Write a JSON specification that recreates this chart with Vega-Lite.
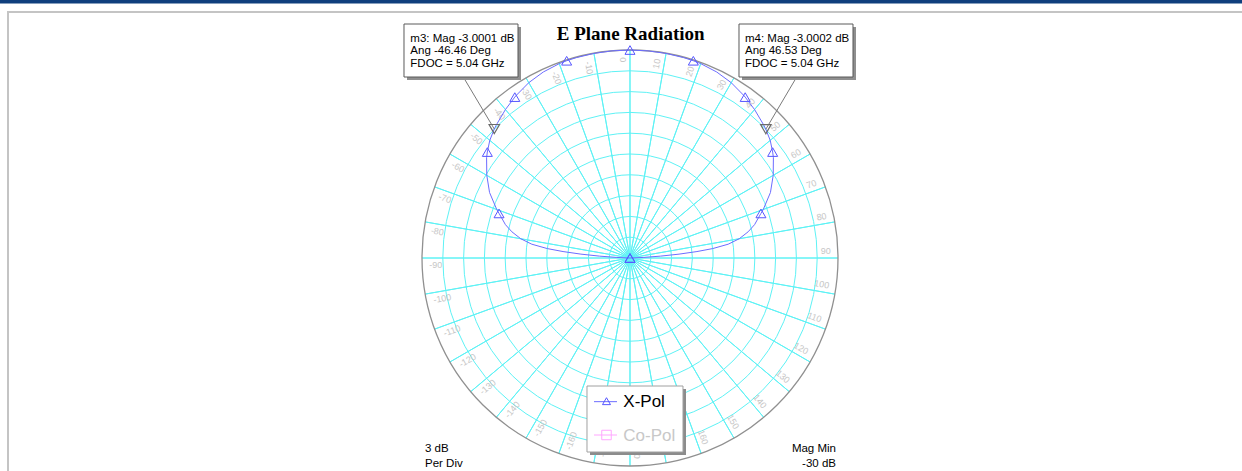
{
  "$schema": "https://vega.github.io/schema/vega-lite/v6.json",
  "width": 1242,
  "height": 471,
  "padding": 0,
  "autosize": {"type": "none"},
  "background": "white",
  "config": {"view": {"stroke": null}},
  "datasets": {
    "xpol": [
      {"angle": -90, "mag": -36.0}, {"angle": -89, "mag": -31.0}, {"angle": -88.3, "mag": -29.6}, {"angle": -87.5, "mag": -28.1},
      {"angle": -86.5, "mag": -25.6}, {"angle": -85.5, "mag": -22.9}, {"angle": -84.5, "mag": -20.3}, {"angle": -83.5, "mag": -18.0},
      {"angle": -82, "mag": -15.7}, {"angle": -80, "mag": -14.0}, {"angle": -77.5, "mag": -12.55}, {"angle": -75, "mag": -11.4},
      {"angle": -72.5, "mag": -10.55}, {"angle": -71.2, "mag": -10.05}, {"angle": -70, "mag": -9.55}, {"angle": -65, "mag": -7.65},
      {"angle": -60, "mag": -6.15}, {"angle": -55, "mag": -4.75}, {"angle": -53.4, "mag": -4.37}, {"angle": -50, "mag": -3.6},
      {"angle": -46.5, "mag": -3.0}, {"angle": -45, "mag": -2.78}, {"angle": -40, "mag": -2.05}, {"angle": -35.6, "mag": -1.46},
      {"angle": -35, "mag": -1.38}, {"angle": -30, "mag": -0.8}, {"angle": -25, "mag": -0.4}, {"angle": -20, "mag": -0.17},
      {"angle": -17.8, "mag": -0.12}, {"angle": -15, "mag": -0.08}, {"angle": -10, "mag": -0.04}, {"angle": -5, "mag": -0.01},
      {"angle": 0, "mag": 0.0},
      {"angle": 5, "mag": -0.01}, {"angle": 10, "mag": -0.04}, {"angle": 15, "mag": -0.08}, {"angle": 17.8, "mag": -0.12},
      {"angle": 20, "mag": -0.17}, {"angle": 25, "mag": -0.4}, {"angle": 30, "mag": -0.8}, {"angle": 35, "mag": -1.38},
      {"angle": 35.6, "mag": -1.46}, {"angle": 40, "mag": -2.05}, {"angle": 45, "mag": -2.78}, {"angle": 46.5, "mag": -3.0},
      {"angle": 50, "mag": -3.6}, {"angle": 53.4, "mag": -4.37}, {"angle": 55, "mag": -4.75}, {"angle": 60, "mag": -6.15},
      {"angle": 65, "mag": -7.65}, {"angle": 70, "mag": -9.55}, {"angle": 71.2, "mag": -10.05}, {"angle": 72.5, "mag": -10.55},
      {"angle": 75, "mag": -11.4}, {"angle": 77.5, "mag": -12.55}, {"angle": 80, "mag": -14.0}, {"angle": 82, "mag": -15.7},
      {"angle": 83.5, "mag": -18.0}, {"angle": 84.5, "mag": -20.3}, {"angle": 85.5, "mag": -22.9}, {"angle": 86.5, "mag": -25.6},
      {"angle": 87.5, "mag": -28.1}, {"angle": 88.3, "mag": -29.6}, {"angle": 89, "mag": -31.0}, {"angle": 90, "mag": -36.0}
    ],
    "xpolMarkers": [
      {"angle": -89, "mag": -31.0}, {"angle": -71.2, "mag": -10.05}, {"angle": -53.4, "mag": -4.37}, {"angle": -35.6, "mag": -1.46},
      {"angle": -17.8, "mag": -0.12}, {"angle": 0, "mag": 0.0}, {"angle": 17.8, "mag": -0.12}, {"angle": 35.6, "mag": -1.46},
      {"angle": 53.4, "mag": -4.37}, {"angle": 71.2, "mag": -10.05}, {"angle": 89, "mag": -31.0}
    ],
    "markers": [
      {"marker": "m3", "angle": -46.46, "mag": -3.0001, "fdoc": 5.04},
      {"marker": "m4", "angle": 46.53, "mag": -3.0002, "fdoc": 5.04}
    ],
    "angles": [
      {"angle": -170}, {"angle": -160}, {"angle": -150}, {"angle": -140}, {"angle": -130}, {"angle": -120},
      {"angle": -110}, {"angle": -100}, {"angle": -90}, {"angle": -80}, {"angle": -70}, {"angle": -60},
      {"angle": -50}, {"angle": -40}, {"angle": -30}, {"angle": -20}, {"angle": -10}, {"angle": 0},
      {"angle": 10}, {"angle": 20}, {"angle": 30}, {"angle": 40}, {"angle": 50}, {"angle": 60},
      {"angle": 70}, {"angle": 80}, {"angle": 90}, {"angle": 100}, {"angle": 110}, {"angle": 120},
      {"angle": 130}, {"angle": 140}, {"angle": 150}, {"angle": 160}, {"angle": 170}, {"angle": 180}
    ],
    "rings": [
      {"db": -27}, {"db": -24}, {"db": -21}, {"db": -18}, {"db": -15}, {"db": -12}, {"db": -9}, {"db": -6}, {"db": -3}, {"db": 0}
    ]
  },
  "resolve": {"scale": {"theta": "independent", "angle": "independent"}},
  "layer": [
    {
      "data": {"values": [{}]},
      "mark": {"type": "rect", "color": "#0f3f7d"},
      "encoding": {
        "x": {"datum": -90.865, "type": "quantitative", "scale": {"domain": [-90.865, 88.269], "nice": false, "zero": false}, "axis": null},
        "x2": {"datum": 88.269},
        "y": {"datum": 37.212, "type": "quantitative", "scale": {"domain": [-30.721, 37.212], "nice": false, "zero": false}, "axis": null},
        "y2": {"datum": 36.707}
      }
    },
    {
      "data": {"values": [{}]},
      "mark": {"type": "rect", "color": "#c4c4c4"},
      "encoding": {
        "x": {"datum": -89.856, "type": "quantitative", "scale": {"domain": [-90.865, 88.269], "nice": false, "zero": false}, "axis": null},
        "x2": {"datum": 88.269},
        "y": {"datum": 35.625, "type": "quantitative", "scale": {"domain": [-30.721, 37.212], "nice": false, "zero": false}, "axis": null},
        "y2": {"datum": 35.337}
      }
    },
    {
      "data": {"values": [{}]},
      "mark": {"type": "rect", "color": "#c4c4c4"},
      "encoding": {
        "x": {"datum": -89.856, "type": "quantitative", "scale": {"domain": [-90.865, 88.269], "nice": false, "zero": false}, "axis": null},
        "x2": {"datum": -89.567},
        "y": {"datum": 35.625, "type": "quantitative", "scale": {"domain": [-30.721, 37.212], "nice": false, "zero": false}, "axis": null},
        "y2": {"datum": -30.721}
      }
    },
    {
      "data": {"name": "angles"},
      "mark": {"type": "arc", "filled": false, "fill": null, "stroke": "#5ef2f5", "strokeWidth": 1},
      "encoding": {
        "x": {"datum": 0, "type": "quantitative", "scale": {"domain": [-90.865, 88.269], "nice": false, "zero": false}, "axis": null},
        "y": {"datum": 0, "type": "quantitative", "scale": {"domain": [-30.721, 37.212], "nice": false, "zero": false}, "axis": null},
        "theta": {"field": "angle", "type": "quantitative", "stack": null, "scale": {"domain": [-180, 180], "range": [-3.14159265, 3.14159265]}},
        "theta2": {"field": "angle"},
        "radius": {"datum": 0, "type": "quantitative", "scale": {"type": "linear", "domain": [-30, 0], "range": [0, 208], "nice": false, "zero": false}},
        "radius2": {"datum": -30}
      }
    },
    {
      "data": {"name": "rings"},
      "transform": [{"filter": "datum.db < 0"}],
      "mark": {"type": "arc", "filled": false, "fill": null, "stroke": "#5ef2f5", "strokeWidth": 1, "theta": 0, "theta2": 6.2832},
      "encoding": {
        "x": {"datum": 0, "type": "quantitative", "scale": {"domain": [-90.865, 88.269], "nice": false, "zero": false}, "axis": null},
        "y": {"datum": 0, "type": "quantitative", "scale": {"domain": [-30.721, 37.212], "nice": false, "zero": false}, "axis": null},
        "radius": {"field": "db", "type": "quantitative", "scale": {"type": "linear", "domain": [-30, 0], "range": [0, 208], "nice": false, "zero": false}},
        "radius2": {"datum": -30}
      }
    },
    {
      "data": {"name": "rings"},
      "transform": [{"filter": "datum.db == 0"}],
      "mark": {"type": "arc", "filled": false, "fill": null, "stroke": "#909090", "strokeWidth": 1.3, "theta": 0, "theta2": 6.2832},
      "encoding": {
        "x": {"datum": 0, "type": "quantitative", "scale": {"domain": [-90.865, 88.269], "nice": false, "zero": false}, "axis": null},
        "y": {"datum": 0, "type": "quantitative", "scale": {"domain": [-30.721, 37.212], "nice": false, "zero": false}, "axis": null},
        "radius": {"field": "db", "type": "quantitative", "scale": {"type": "linear", "domain": [-30, 0], "range": [0, 208], "nice": false, "zero": false}},
        "radius2": {"datum": -30}
      }
    },
    {
      "data": {"name": "angles"},
      "transform": [{"filter": "datum.angle >= 0"}],
      "mark": {"type": "text", "align": "right", "baseline": "middle", "fontSize": 9, "font": "Liberation Sans", "color": "#c6c6c6"},
      "encoding": {
        "x": {"datum": 0, "type": "quantitative", "scale": {"domain": [-90.865, 88.269], "nice": false, "zero": false}, "axis": null},
        "y": {"datum": 0, "type": "quantitative", "scale": {"domain": [-30.721, 37.212], "nice": false, "zero": false}, "axis": null},
        "theta": {"field": "angle", "type": "quantitative", "stack": null, "scale": {"domain": [-180, 180], "range": [-3.17829, 3.10489]}},
        "radius": {"datum": -1.01, "type": "quantitative", "scale": {"type": "linear", "domain": [-30, 0], "range": [0, 208], "nice": false, "zero": false}},
        "angle": {"field": "angle", "type": "quantitative", "scale": {"domain": [0, 180], "range": [-90, 90]}},
        "text": {"field": "angle", "type": "nominal"}
      }
    },
    {
      "data": {"name": "angles"},
      "transform": [{"filter": "datum.angle < 0"}],
      "mark": {"type": "text", "align": "left", "baseline": "middle", "fontSize": 9, "font": "Liberation Sans", "color": "#c6c6c6"},
      "encoding": {
        "x": {"datum": 0, "type": "quantitative", "scale": {"domain": [-90.865, 88.269], "nice": false, "zero": false}, "axis": null},
        "y": {"datum": 0, "type": "quantitative", "scale": {"domain": [-30.721, 37.212], "nice": false, "zero": false}, "axis": null},
        "theta": {"field": "angle", "type": "quantitative", "stack": null, "scale": {"domain": [-180, 180], "range": [-3.17829, 3.10489]}},
        "radius": {"datum": -1.01, "type": "quantitative", "scale": {"type": "linear", "domain": [-30, 0], "range": [0, 208], "nice": false, "zero": false}},
        "angle": {"field": "angle", "type": "quantitative", "scale": {"domain": [-180, 0], "range": [-90, 90]}},
        "text": {"field": "angle", "type": "nominal"}
      }
    },
    {
      "data": {"name": "xpol"},
      "transform": [
        {"calculate": "max(datum.mag + 30, 0)", "as": "rho"},
        {"calculate": "datum.rho * sin(datum.angle * PI / 180)", "as": "px"},
        {"calculate": "datum.rho * cos(datum.angle * PI / 180)", "as": "py"}
      ],
      "mark": {"type": "line", "color": "#6c6cff", "strokeWidth": 1},
      "encoding": {
        "x": {"field": "px", "type": "quantitative", "scale": {"domain": [-90.865, 88.269], "nice": false, "zero": false}, "axis": null},
        "y": {"field": "py", "type": "quantitative", "scale": {"domain": [-30.721, 37.212], "nice": false, "zero": false}, "axis": null},
        "order": {"field": "angle", "type": "quantitative"}
      }
    },
    {
      "data": {"name": "xpolMarkers"},
      "transform": [
        {"calculate": "max(datum.mag + 30, 0)", "as": "rho"},
        {"calculate": "datum.rho * sin(datum.angle * PI / 180)", "as": "px"},
        {"calculate": "datum.rho * cos(datum.angle * PI / 180)", "as": "py"}
      ],
      "mark": {"type": "point", "shape": "triangle-up", "filled": false, "size": 100, "stroke": "#5656ff", "strokeWidth": 1, "opacity": 1},
      "encoding": {
        "x": {"field": "px", "type": "quantitative", "scale": {"domain": [-90.865, 88.269], "nice": false, "zero": false}, "axis": null},
        "y": {"field": "py", "type": "quantitative", "scale": {"domain": [-30.721, 37.212], "nice": false, "zero": false}, "axis": null}
      }
    },
    {
      "data": {"name": "markers"},
      "transform": [
        {"filter": "datum.marker == 'm3'"},
        {"calculate": "max(datum.mag + 30, 0)", "as": "rho"},
        {"calculate": "datum.rho * sin(datum.angle * PI / 180)", "as": "px"},
        {"calculate": "datum.rho * cos(datum.angle * PI / 180)", "as": "py"}
      ],
      "mark": {"type": "rule", "color": "#7a7a7a", "strokeWidth": 1},
      "encoding": {
        "x": {"field": "px", "type": "quantitative", "scale": {"domain": [-90.865, 88.269], "nice": false, "zero": false}, "axis": null},
        "y": {"field": "py", "type": "quantitative", "scale": {"domain": [-30.721, 37.212], "nice": false, "zero": false}, "axis": null},
        "x2": {"datum": -24.043},
        "y2": {"datum": 26.106}
      }
    },
    {
      "data": {"name": "markers"},
      "transform": [
        {"filter": "datum.marker == 'm4'"},
        {"calculate": "max(datum.mag + 30, 0)", "as": "rho"},
        {"calculate": "datum.rho * sin(datum.angle * PI / 180)", "as": "px"},
        {"calculate": "datum.rho * cos(datum.angle * PI / 180)", "as": "py"}
      ],
      "mark": {"type": "rule", "color": "#7a7a7a", "strokeWidth": 1},
      "encoding": {
        "x": {"field": "px", "type": "quantitative", "scale": {"domain": [-90.865, 88.269], "nice": false, "zero": false}, "axis": null},
        "y": {"field": "py", "type": "quantitative", "scale": {"domain": [-30.721, 37.212], "nice": false, "zero": false}, "axis": null},
        "x2": {"datum": 24.043},
        "y2": {"datum": 26.106}
      }
    },
    {
      "data": {"name": "markers"},
      "transform": [
        {"calculate": "max(datum.mag + 30, 0)", "as": "rho"},
        {"calculate": "datum.rho * sin(datum.angle * PI / 180)", "as": "px"},
        {"calculate": "datum.rho * cos(datum.angle * PI / 180)", "as": "py"}
      ],
      "mark": {"type": "point", "shape": "triangle-down", "filled": false, "size": 110, "stroke": "#6a6a6a", "strokeWidth": 1.2, "opacity": 1},
      "encoding": {
        "x": {"field": "px", "type": "quantitative", "scale": {"domain": [-90.865, 88.269], "nice": false, "zero": false}, "axis": null},
        "y": {"field": "py", "type": "quantitative", "scale": {"domain": [-30.721, 37.212], "nice": false, "zero": false}, "axis": null}
      }
    },
    {
      "data": {"values": [{}]},
      "mark": {"type": "rect", "color": "#8f8f8f", "xOffset": 3, "x2Offset": 3, "yOffset": 3, "y2Offset": 3},
      "encoding": {
        "x": {"datum": -32.596, "type": "quantitative", "scale": {"domain": [-90.865, 88.269], "nice": false, "zero": false}, "axis": null},
        "x2": {"datum": -16.154},
        "y": {"datum": 33.75, "type": "quantitative", "scale": {"domain": [-30.721, 37.212], "nice": false, "zero": false}, "axis": null},
        "y2": {"datum": 26.106}
      }
    },
    {
      "data": {"values": [{}]},
      "mark": {"type": "rect", "fill": "white", "stroke": "#5a5a5a", "strokeWidth": 1},
      "encoding": {
        "x": {"datum": -32.596, "type": "quantitative", "scale": {"domain": [-90.865, 88.269], "nice": false, "zero": false}, "axis": null},
        "x2": {"datum": -16.154},
        "y": {"datum": 33.75, "type": "quantitative", "scale": {"domain": [-30.721, 37.212], "nice": false, "zero": false}, "axis": null},
        "y2": {"datum": 26.106}
      }
    },
    {
      "data": {"values": [{}]},
      "mark": {"type": "rect", "color": "#8f8f8f", "xOffset": 3, "x2Offset": 3, "yOffset": 3, "y2Offset": 3},
      "encoding": {
        "x": {"datum": 15.721, "type": "quantitative", "scale": {"domain": [-90.865, 88.269], "nice": false, "zero": false}, "axis": null},
        "x2": {"datum": 32.163},
        "y": {"datum": 33.75, "type": "quantitative", "scale": {"domain": [-30.721, 37.212], "nice": false, "zero": false}, "axis": null},
        "y2": {"datum": 26.106}
      }
    },
    {
      "data": {"values": [{}]},
      "mark": {"type": "rect", "fill": "white", "stroke": "#5a5a5a", "strokeWidth": 1},
      "encoding": {
        "x": {"datum": 15.721, "type": "quantitative", "scale": {"domain": [-90.865, 88.269], "nice": false, "zero": false}, "axis": null},
        "x2": {"datum": 32.163},
        "y": {"datum": 33.75, "type": "quantitative", "scale": {"domain": [-30.721, 37.212], "nice": false, "zero": false}, "axis": null},
        "y2": {"datum": 26.106}
      }
    },
    {
      "data": {"name": "markers"},
      "transform": [
        {"filter": "datum.marker == 'm3'"},
        {"calculate": "[datum.marker + ': Mag ' + datum.mag + ' dB', 'Ang ' + datum.angle + ' Deg', 'FDOC = ' + datum.fdoc + ' GHz']", "as": "lines"}
      ],
      "mark": {"type": "text", "align": "left", "baseline": "alphabetic", "fontSize": 11.5, "lineHeight": 12.5, "font": "Liberation Sans", "color": "#000000"},
      "encoding": {
        "x": {"datum": -31.683, "type": "quantitative", "scale": {"domain": [-90.865, 88.269], "nice": false, "zero": false}, "axis": null},
        "y": {"datum": 31.197, "type": "quantitative", "scale": {"domain": [-30.721, 37.212], "nice": false, "zero": false}, "axis": null},
        "text": {"field": "lines", "type": "nominal"}
      }
    },
    {
      "data": {"name": "markers"},
      "transform": [
        {"filter": "datum.marker == 'm4'"},
        {"calculate": "[datum.marker + ': Mag ' + datum.mag + ' dB', 'Ang ' + datum.angle + ' Deg', 'FDOC = ' + datum.fdoc + ' GHz']", "as": "lines"}
      ],
      "mark": {"type": "text", "align": "left", "baseline": "alphabetic", "fontSize": 11.5, "lineHeight": 12.5, "font": "Liberation Sans", "color": "#000000"},
      "encoding": {
        "x": {"datum": 16.587, "type": "quantitative", "scale": {"domain": [-90.865, 88.269], "nice": false, "zero": false}, "axis": null},
        "y": {"datum": 31.197, "type": "quantitative", "scale": {"domain": [-30.721, 37.212], "nice": false, "zero": false}, "axis": null},
        "text": {"field": "lines", "type": "nominal"}
      }
    },
    {
      "data": {"values": [{"title": "E Plane Radiation"}]},
      "mark": {"type": "text", "align": "center", "baseline": "alphabetic", "fontSize": 19, "fontWeight": "bold", "font": "Liberation Serif", "color": "#000000"},
      "encoding": {
        "x": {"datum": 0.1, "type": "quantitative", "scale": {"domain": [-90.865, 88.269], "nice": false, "zero": false}, "axis": null},
        "y": {"datum": 31.442, "type": "quantitative", "scale": {"domain": [-30.721, 37.212], "nice": false, "zero": false}, "axis": null},
        "text": {"field": "title", "type": "nominal"}
      }
    },
    {
      "data": {"values": [{}]},
      "mark": {"type": "rect", "color": "#8c8c8c", "xOffset": 3, "x2Offset": 3, "yOffset": 3, "y2Offset": 3},
      "encoding": {
        "x": {"datum": -6.202, "type": "quantitative", "scale": {"domain": [-90.865, 88.269], "nice": false, "zero": false}, "axis": null},
        "x2": {"datum": 7.644},
        "y": {"datum": -18.462, "type": "quantitative", "scale": {"domain": [-30.721, 37.212], "nice": false, "zero": false}, "axis": null},
        "y2": {"datum": -27.981}
      }
    },
    {
      "data": {"values": [{}]},
      "mark": {"type": "rect", "fill": "white", "stroke": "#a0a0a0", "strokeWidth": 1},
      "encoding": {
        "x": {"datum": -6.202, "type": "quantitative", "scale": {"domain": [-90.865, 88.269], "nice": false, "zero": false}, "axis": null},
        "x2": {"datum": 7.644},
        "y": {"datum": -18.462, "type": "quantitative", "scale": {"domain": [-30.721, 37.212], "nice": false, "zero": false}, "axis": null},
        "y2": {"datum": -27.981}
      }
    },
    {
      "data": {"values": [{}]},
      "mark": {"type": "rule", "color": "#6c6cff", "strokeWidth": 1},
      "encoding": {
        "x": {"datum": -5.192, "type": "quantitative", "scale": {"domain": [-90.865, 88.269], "nice": false, "zero": false}, "axis": null},
        "x2": {"datum": -1.875},
        "y": {"datum": -20.72, "type": "quantitative", "scale": {"domain": [-30.721, 37.212], "nice": false, "zero": false}, "axis": null}
      }
    },
    {
      "data": {"values": [{}]},
      "mark": {"type": "point", "shape": "triangle-up", "filled": false, "size": 64, "stroke": "#5656ff", "strokeWidth": 1, "opacity": 1},
      "encoding": {
        "x": {"datum": -3.39, "type": "quantitative", "scale": {"domain": [-90.865, 88.269], "nice": false, "zero": false}, "axis": null},
        "y": {"datum": -20.65, "type": "quantitative", "scale": {"domain": [-30.721, 37.212], "nice": false, "zero": false}, "axis": null}
      }
    },
    {
      "data": {"values": [{"series": "X-Pol"}]},
      "mark": {"type": "text", "align": "left", "baseline": "alphabetic", "fontSize": 17, "font": "Liberation Sans", "color": "#000000"},
      "encoding": {
        "x": {"datum": -0.966, "type": "quantitative", "scale": {"domain": [-90.865, 88.269], "nice": false, "zero": false}, "axis": null},
        "y": {"datum": -21.534, "type": "quantitative", "scale": {"domain": [-30.721, 37.212], "nice": false, "zero": false}, "axis": null},
        "text": {"field": "series", "type": "nominal"}
      }
    },
    {
      "data": {"values": [{}]},
      "mark": {"type": "rule", "color": "#ffa6ff", "strokeWidth": 1},
      "encoding": {
        "x": {"datum": -5.192, "type": "quantitative", "scale": {"domain": [-90.865, 88.269], "nice": false, "zero": false}, "axis": null},
        "x2": {"datum": -1.875},
        "y": {"datum": -25.529, "type": "quantitative", "scale": {"domain": [-30.721, 37.212], "nice": false, "zero": false}, "axis": null}
      }
    },
    {
      "data": {"values": [{}]},
      "mark": {"type": "point", "shape": "square", "filled": false, "size": 90, "stroke": "#ffa6ff", "strokeWidth": 1, "opacity": 1},
      "encoding": {
        "x": {"datum": -3.39, "type": "quantitative", "scale": {"domain": [-90.865, 88.269], "nice": false, "zero": false}, "axis": null},
        "y": {"datum": -25.529, "type": "quantitative", "scale": {"domain": [-30.721, 37.212], "nice": false, "zero": false}, "axis": null}
      }
    },
    {
      "data": {"values": [{"series": "Co-Pol"}]},
      "mark": {"type": "text", "align": "left", "baseline": "alphabetic", "fontSize": 17, "font": "Liberation Sans", "color": "#c8c8c8"},
      "encoding": {
        "x": {"datum": -0.966, "type": "quantitative", "scale": {"domain": [-90.865, 88.269], "nice": false, "zero": false}, "axis": null},
        "y": {"datum": -26.437, "type": "quantitative", "scale": {"domain": [-30.721, 37.212], "nice": false, "zero": false}, "axis": null},
        "text": {"field": "series", "type": "nominal"}
      }
    },
    {
      "data": {"values": [{"lines": ["3 dB", "Per Div"]}]},
      "mark": {"type": "text", "align": "left", "baseline": "alphabetic", "fontSize": 11.5, "lineHeight": 15.3, "font": "Liberation Sans", "color": "#000000"},
      "encoding": {
        "x": {"datum": -29.567, "type": "quantitative", "scale": {"domain": [-90.865, 88.269], "nice": false, "zero": false}, "axis": null},
        "y": {"datum": -27.938, "type": "quantitative", "scale": {"domain": [-30.721, 37.212], "nice": false, "zero": false}, "axis": null},
        "text": {"field": "lines", "type": "nominal"}
      }
    },
    {
      "data": {"values": [{"lines": ["Mag Min", "-30 dB"]}]},
      "mark": {"type": "text", "align": "right", "baseline": "alphabetic", "fontSize": 11.5, "lineHeight": 15.3, "font": "Liberation Sans", "color": "#000000"},
      "encoding": {
        "x": {"datum": 29.712, "type": "quantitative", "scale": {"domain": [-90.865, 88.269], "nice": false, "zero": false}, "axis": null},
        "y": {"datum": -27.938, "type": "quantitative", "scale": {"domain": [-30.721, 37.212], "nice": false, "zero": false}, "axis": null},
        "text": {"field": "lines", "type": "nominal"}
      }
    }
  ]
}
